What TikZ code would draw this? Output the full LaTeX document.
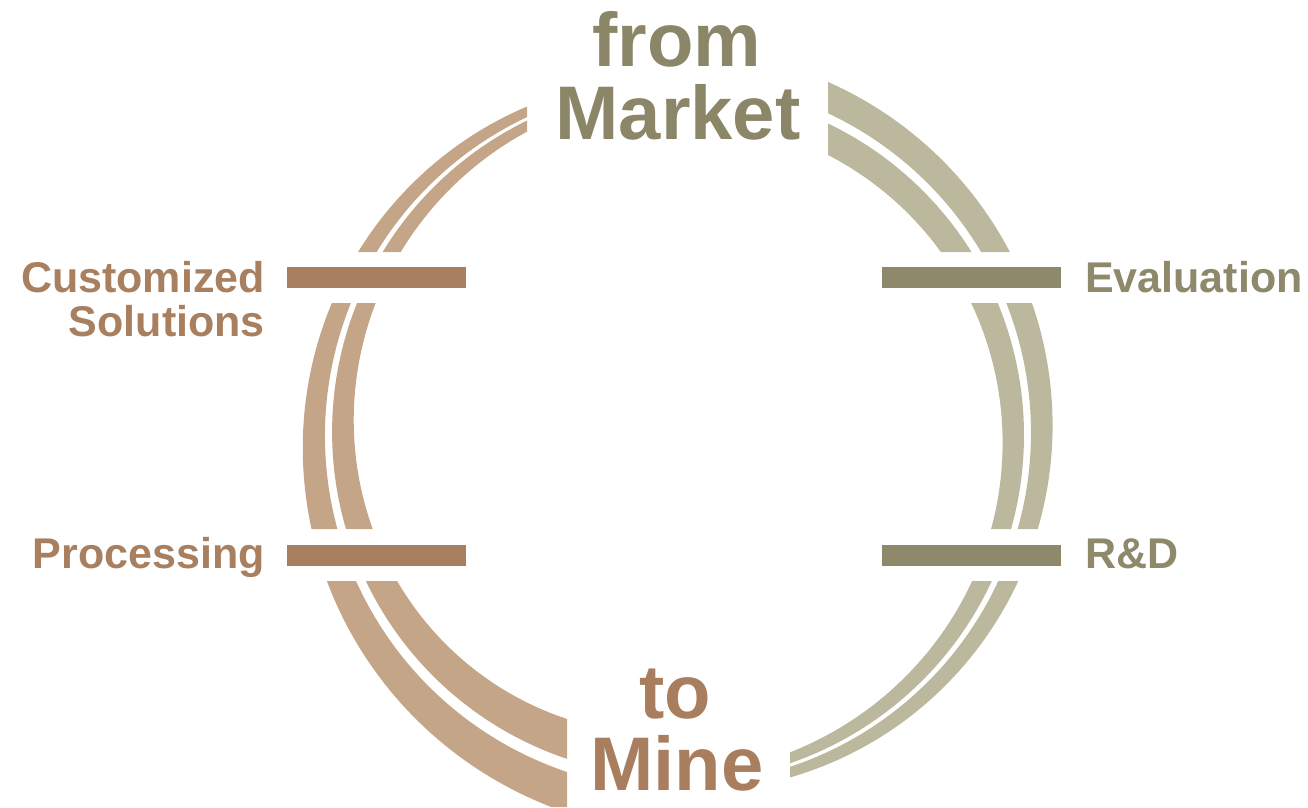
\documentclass[tikz,border=0pt]{standalone}
\usepackage{fontspec}
\setmainfont{Liberation Sans}
\definecolor{lband}{HTML}{C5A587}
\definecolor{lbar}{HTML}{A88060}
\definecolor{rband}{HTML}{BBB89E}
\definecolor{rbar}{HTML}{8D896A}
\definecolor{mkt}{HTML}{8A8667}
\definecolor{mine}{HTML}{A87E5E}
\begin{document}
\begin{tikzpicture}[x=1pt,y=-1pt,
  declare function={wl(\t)=51+0.484*(\t-180)+0.000676*(\t-180)*(\t-180);
                    wr(\t)=50+0.3046*\t-0.000885*\t*\t;},
  bigtxt/.style={font=\bfseries\fontsize{76}{78}\selectfont, inner sep=0pt, anchor=base},
  sidetxt/.style={font=\bfseries\fontsize{43}{44}\selectfont, inner sep=0pt},
  barbox/.style={inner sep=0pt, minimum width=179pt, minimum height=21pt}]
\useasboundingbox (0,0) rectangle (1308,807);
\def\Rm{349.5}
% left band
\begin{scope}
  \clip (0,0) rectangle (527,252) (0,303) rectangle (654,529) (0,581) rectangle (567,807);
  \fill[lband] plot[domain=100:270,samples=160] ({678+(\Rm+0.5*wl(\x))*cos(\x)},{434-(\Rm+0.5*wl(\x))*sin(\x)})
     -- plot[domain=270:100,samples=160] ({678+(\Rm+0.07*wl(\x))*cos(\x)},{434-(\Rm+0.07*wl(\x))*sin(\x)}) -- cycle;
  \fill[lband] plot[domain=100:270,samples=160] ({678+(\Rm-0.07*wl(\x))*cos(\x)},{434-(\Rm-0.07*wl(\x))*sin(\x)})
     -- plot[domain=270:100,samples=160] ({678+(\Rm-0.5*wl(\x))*cos(\x)},{434-(\Rm-0.5*wl(\x))*sin(\x)}) -- cycle;
\end{scope}
% right band
\begin{scope}
  \clip (828,0) rectangle (1308,252) (700,303) rectangle (1308,529) (790,581) rectangle (1308,807);
  \fill[rband] plot[domain=-95:80,samples=160] ({678+(\Rm+0.5*wr(\x))*cos(\x)},{434-(\Rm+0.5*wr(\x))*sin(\x)})
     -- plot[domain=80:-95,samples=160] ({678+(\Rm+0.07*wr(\x))*cos(\x)},{434-(\Rm+0.07*wr(\x))*sin(\x)}) -- cycle;
  \fill[rband] plot[domain=-95:80,samples=160] ({678+(\Rm-0.07*wr(\x))*cos(\x)},{434-(\Rm-0.07*wr(\x))*sin(\x)})
     -- plot[domain=80:-95,samples=160] ({678+(\Rm-0.5*wr(\x))*cos(\x)},{434-(\Rm-0.5*wr(\x))*sin(\x)}) -- cycle;
\end{scope}
% bars
\node[barbox, fill=lbar] (barCS) at (376.5,277.5) {};
\node[barbox, fill=lbar] (barPR) at (376.5,555.5) {};
\node[barbox, fill=rbar] (barEV) at (971.5,277.5) {};
\node[barbox, fill=rbar] (barRD) at (971.5,555.5) {};
% big labels
\node[bigtxt, text=mkt] (from) at (677,66) {from};
\node[bigtxt, text=mkt] (market) at (678,139) {Market};
\node[bigtxt, text=mine] (to) at (675,718) {to};
\node[bigtxt, text=mine] (minetxt) at (677,790) {Mine};
% side labels
\node[sidetxt, text=lbar, align=right, anchor=east] (cust) at (265,299) {Customized\\Solutions};
\node[sidetxt, text=lbar, anchor=base east] (proc) at (265,568) {Processing};
\node[sidetxt, text=rbar, anchor=base west] (eval) at (1085,292) {Evaluation};
\node[sidetxt, text=rbar, anchor=base west] (rd) at (1085,568) {R\&D};
\end{tikzpicture}
\end{document}
